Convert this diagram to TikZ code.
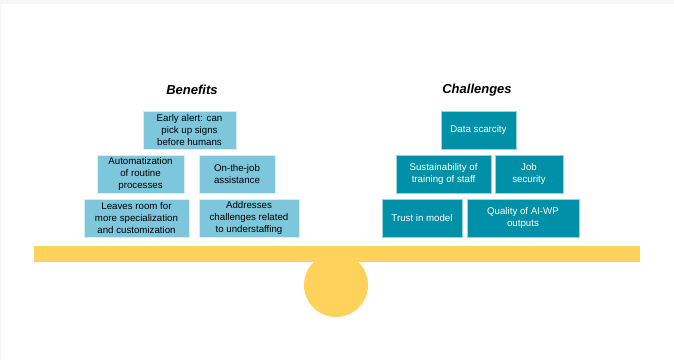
\documentclass[tikz,border=0pt]{standalone}
\usepackage{fontspec}
\setmainfont{Liberation Sans}
\definecolor{benef}{HTML}{7DC6DB}
\definecolor{chall}{HTML}{0090A7}
\definecolor{beam}{HTML}{FFD25B}
\definecolor{topband}{HTML}{F6F6F6}
\begin{document}
\begin{tikzpicture}[x=1pt,y=-1pt,
  boxb/.style={draw=white!70!benef,line width=0.6pt,fill=benef,text=black,align=center,inner sep=0pt,font=\fontsize{9.7}{12}\selectfont},
  boxc/.style={draw=white!60!chall,line width=0.6pt,fill=chall,text=white,align=center,inner sep=0pt,font=\fontsize{9.7}{12}\selectfont},
  ttl/.style={font=\fontsize{13}{15}\selectfont\bfseries\itshape}]
\useasboundingbox (0,0) rectangle (674,360);
\fill[white] (0,0) rectangle (674,360);
\fill[topband] (0,0) rectangle (674,4);
\draw[topband,line width=0.8pt] (0.4,4) -- (0.4,360);
% titles
\node[ttl] (tb) at (192,90) {Benefits};
\node[ttl] (tc) at (477,90) {Challenges};
% benefit boxes
\node[boxb,minimum width=93,minimum height=38] (b1) at (189.5,130) {Early alert: can\\pick up signs\\before humans};
\node[boxb,minimum width=87,minimum height=38] (b2) at (140.5,174) {Automatization\\of routine\\processes};
\node[boxb,minimum width=76,minimum height=38] (b3) at (237,174) {On-the-job\\assistance};
\node[boxb,minimum width=105,minimum height=38] (b4) at (136.5,218) {Leaves room for\\more specialization\\and customization};
\node[boxb,minimum width=100,minimum height=38] (b5) at (249,218) {Addresses\\challenges related\\to understaffing};
% challenge boxes
\node[boxc,minimum width=75,minimum height=38] (c1) at (478.5,130) {Data scarcity};
\node[boxc,minimum width=95,minimum height=38] (c2) at (443.5,174) {Sustainability of\\training of staff};
\node[boxc,minimum width=68,minimum height=38] (c3) at (529,174) {Job\\security};
\node[boxc,minimum width=80,minimum height=38] (c4) at (422,218) {Trust in model};
\node[boxc,minimum width=112,minimum height=38] (c5) at (523,218) {Quality of AI-WP\\outputs};
% balance
\fill[beam] (336,285) circle (32);
\fill[beam] (34,246) rectangle (640,262);
\end{tikzpicture}
\end{document}
